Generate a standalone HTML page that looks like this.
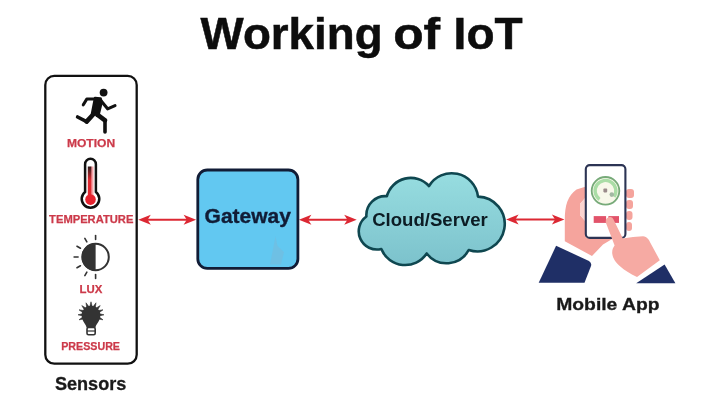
<!DOCTYPE html>
<html lang="en">
<head>
<meta charset="utf-8">
<title>Working of IoT</title>
<style>
html,body{margin:0;padding:0;background:#fff;}
body{width:720px;height:413px;overflow:hidden;}
svg{display:block;filter:blur(0.45px);}
text{font-family:"Liberation Sans",sans-serif;font-weight:bold;}
.red{fill:#cc3a4a;stroke:#cc3a4a;stroke-width:0.25px;}
.dark{fill:#1a1a1a;}
</style>
</head>
<body>
<svg width="720" height="413" viewBox="0 0 720 413">
<defs>
<linearGradient id="cg" x1="0" y1="0" x2="0" y2="1">
<stop offset="0" stop-color="#97dde0"/>
<stop offset="1" stop-color="#7cc2cc"/>
</linearGradient>
<linearGradient id="tg" x1="0" y1="0" x2="0" y2="1">
<stop offset="0" stop-color="#2a1a1a"/>
<stop offset="0.45" stop-color="#e02a30"/>
<stop offset="1" stop-color="#e02a30"/>
</linearGradient>
</defs>
<rect width="720" height="413" fill="#fff"/>

<!-- title -->
<g id="title" font-size="44" fill="#0d0d0d" stroke="#0d0d0d" stroke-width="0.5">
<text y="48.5"><tspan x="200.6" textLength="182" lengthAdjust="spacingAndGlyphs">Working</tspan> <tspan x="393.2" textLength="47" lengthAdjust="spacingAndGlyphs">of</tspan> <tspan x="453.6" textLength="69" lengthAdjust="spacingAndGlyphs">IoT</tspan></text>
</g>

<!-- sensors box -->
<rect x="45.3" y="75.9" width="91.4" height="287.8" rx="9" ry="9" fill="#fff" stroke="#111" stroke-width="2.3"/>

<!-- motion icon -->
<g id="motion" fill="none" stroke="#111" stroke-linecap="round" stroke-linejoin="round">
<circle cx="103.6" cy="92.6" r="3.9" fill="#111" stroke="none"/>
<path d="M95 98 L100.6 98.4 L101.6 102.5 L98.6 114.6 L92 113.6 Z" fill="#111" stroke-width="2.4"/>
<path d="M96 99 L86.8 99 L83.3 104.8" stroke-width="3.1"/>
<path d="M100.8 100.6 L107.6 108.8 L115 105.6" stroke-width="3.1"/>
<path d="M93.6 114 L86.6 121.6" stroke-width="4.6"/>
<path d="M86.6 121.6 L77.6 117" stroke-width="3.6"/>
<path d="M97 114.4 L105 120.4" stroke-width="4.6"/>
<path d="M105 120.4 L105 132" stroke-width="3.6"/>
</g>

<!-- thermometer -->
<g id="thermo">
<path d="M85.1 164.2 a5.4 5.4 0 0 1 10.8 0 L95.9 191.9 a8.8 8.8 0 1 1 -10.8 0 Z" fill="#fff" stroke="#111" stroke-width="2.5"/>
<rect x="90.3" y="166.5" width="3.2" height="30" fill="#f7a3a8"/>
<rect x="87.8" y="166.5" width="3.6" height="30" fill="url(#tg)"/>
<circle cx="90.5" cy="199.6" r="5.3" fill="#e5232f"/>
</g>

<!-- lux icon -->
<g id="lux">
<circle cx="95.6" cy="257" r="13.2" fill="#fff" stroke="#333" stroke-width="2"/>
<path d="M95.6 243 A14 14 0 0 0 95.6 271 Z" fill="#333"/>
<g stroke="#333" stroke-width="1.6" stroke-linecap="round">
<line x1="95.6" y1="239.5" x2="95.6" y2="235.5"/>
<line x1="86.85" y1="241.84" x2="84.85" y2="238.38"/>
<line x1="80.44" y1="248.25" x2="76.98" y2="246.25"/>
<line x1="78.1" y1="257" x2="74.1" y2="257"/>
<line x1="80.44" y1="265.75" x2="76.98" y2="267.75"/>
<line x1="86.85" y1="272.16" x2="84.85" y2="275.62"/>
<line x1="95.6" y1="274.5" x2="95.6" y2="278.5"/>
</g>
</g>

<!-- pressure icon -->
<g id="pressure">
<g fill="#333" stroke="#333" stroke-width="0.6" stroke-linejoin="round">
<path d="M83.6 319.1 L79.0 319.8 L82.7 317.0 Z"/>
<path d="M82.5 315.9 L78.0 314.8 L82.5 313.7 Z"/>
<path d="M82.7 312.6 L79.0 309.8 L83.6 310.5 Z"/>
<path d="M84.2 309.6 L81.8 305.6 L85.8 308.0 Z"/>
<path d="M86.7 307.4 L86.0 302.8 L88.8 306.5 Z"/>
<path d="M89.9 306.3 L91.0 301.8 L92.1 306.3 Z"/>
<path d="M93.2 306.5 L96.0 302.8 L95.3 307.4 Z"/>
<path d="M96.2 308.0 L100.2 305.6 L97.8 309.6 Z"/>
<path d="M98.4 310.5 L103.0 309.8 L99.3 312.6 Z"/>
<path d="M99.5 313.7 L104.0 314.8 L99.5 315.9 Z"/>
<path d="M99.3 317.0 L103.0 319.8 L98.4 319.1 Z"/>
</g>
<path d="M86.4 327.2 C86.4 324.5 82.5 322 81.8 316.4 a9.3 9.3 0 1 1 18.4 0 C99.5 322 95.6 324.5 95.6 327.2 Z" fill="#333"/>
<rect x="87" y="327.4" width="8.2" height="7.4" rx="1.5" fill="#fff" stroke="#333" stroke-width="1.6"/>
<line x1="87" y1="331" x2="95.2" y2="331" stroke="#333" stroke-width="1.2"/>
</g>

<!-- arrows -->
<g id="arrows" stroke="#dc2833" stroke-width="2" fill="#dc2833">
<line x1="146.6" y1="219.7" x2="187.8" y2="219.7"/>
<path d="M138.3 219.7 L150.8 214.7 L147.6 219.7 L150.8 224.7 Z" stroke="none"/>
<path d="M196.1 219.7 L183.6 214.7 L186.8 219.7 L183.6 224.7 Z" stroke="none"/>
<line x1="307.2" y1="219.7" x2="348.4" y2="219.7"/>
<path d="M298.9 219.7 L311.4 214.7 L308.2 219.7 L311.4 224.7 Z" stroke="none"/>
<path d="M356.7 219.7 L344.2 214.7 L347.4 219.7 L344.2 224.7 Z" stroke="none"/>
<line x1="514.4" y1="219.5" x2="556.1" y2="219.5"/>
<path d="M506.1 219.5 L518.6 214.5 L515.4 219.5 L518.6 224.5 Z" stroke="none"/>
<path d="M564.4 219.5 L551.9 214.5 L555.1 219.5 L551.9 224.5 Z" stroke="none"/>
</g>

<!-- gateway -->
<rect x="197.8" y="170" width="100.1" height="98.4" rx="9.5" ry="9.5" fill="#62c8f1" stroke="#111c36" stroke-width="2.8"/>
<text x="204.6" y="223.3" font-size="20.2" fill="#111c36" stroke="#111c36" stroke-width="0.35" textLength="86.4" lengthAdjust="spacingAndGlyphs">Gateway</text>

<path d="M275.5 236.5 L270 264.5 L281 264.5 L284 252 L277.5 246 Z" fill="#9aa6b8" opacity="0.22"/>
<!-- cloud -->
<path id="cloud" d="M366.4 216.5 A19.0 19.0 0 0 1 386.9 196.2 A24.7 24.7 0 0 1 429.0 186.0 A26.5 26.5 0 0 1 478.0 196.6 A27.4 27.4 0 1 1 468.7 250.0 A25.1 25.1 0 0 1 426.7 253.5 A25.8 25.8 0 0 1 381.3 249.0 A18.2 18.2 0 0 1 366.4 216.5 Z" fill="url(#cg)" stroke="#0f4750" stroke-width="2.6" stroke-linejoin="round"/>
<text x="372.2" y="225.7" font-size="18.6" fill="#0c1c24" textLength="115.6" lengthAdjust="spacingAndGlyphs">Cloud/Server</text>

<!-- mobile app illustration -->
<g id="mobile">
<!-- left sleeve -->
<path d="M538.7 282.8 L556.1 245.8 L589 261 Q592 263 591 266 L584.5 282.8 Z" fill="#1f2f66"/>
<!-- left hand -->
<path d="M564.8 221 C564.6 205 568 195.5 576.5 189.5 L586 186.5 L586 197 L580 204 L580 215 L586 222 L586 238 L613 238.5 L603 244.5 L592 256 L564.8 241.2 Z" fill="#f5a49d"/>
<!-- right-side fingers of left hand -->
<rect x="626" y="189" width="8" height="9" rx="3" fill="#f5a49d"/>
<rect x="626" y="200" width="7" height="9" rx="3" fill="#f5a49d"/>
<rect x="626" y="211" width="6.5" height="9" rx="3" fill="#f5a49d"/>
<rect x="626" y="222" width="6" height="9" rx="3" fill="#f5a49d"/>
<path d="M586 197 L580 204 L580 215 L586 222 Z" fill="#fbd3cf"/>
<!-- phone -->
<rect x="585.8" y="165.1" width="39.6" height="72.8" rx="4" ry="4" fill="#fff" stroke="#2c3454" stroke-width="2.1"/>
<!-- gauge -->
<circle cx="605.5" cy="190.8" r="13.8" fill="#f8f8ea" stroke="#77aa79" stroke-width="1.8"/>
<path d="M599.5 199.3 A10.4 10.4 0 1 1 614.0 196.8" fill="none" stroke="#aadda6" stroke-width="3.4"/>
<rect x="603.4" y="188.6" width="3.8" height="3.8" rx="0.8" fill="#9a8a8a"/>
<circle cx="611.8" cy="194.6" r="2.3" fill="#a3b8a3"/>
<!-- buttons -->
<rect x="593.7" y="216.1" width="12.4" height="6.8" fill="#e2536a"/>
<rect x="608.4" y="216.1" width="10.6" height="6.8" fill="#e2536a"/>
<!-- right sleeve -->
<path d="M636.2 283.2 L664.6 264.4 L675.4 283.2 Z" fill="#1f2f66"/>
<!-- right hand -->
<path d="M609.3 217.2 C611.5 216.8 613 218 614 220.5 L622.8 238.6 L633 236.9 L643 236.2 C647 236.2 649.5 240.5 650.6 243.2 L659.8 260.2 L637 277 C630 273.5 624 270 620.6 266.7 C616 262.5 613 259 612.3 254 C611.8 250.5 613 247.5 614.6 245.5 L606 223 C605 219.8 606.8 217.6 609.3 217.2 Z" fill="#f6aaa3"/>
</g>

<!-- labels -->
<text x="66.9" y="147.4" font-size="11.4" class="red" textLength="48.2" lengthAdjust="spacingAndGlyphs">MOTION</text>
<text x="49.1" y="223.4" font-size="10.9" class="red" textLength="84.3" lengthAdjust="spacingAndGlyphs">TEMPERATURE</text>
<text x="79.6" y="293.4" font-size="10.9" class="red" textLength="22.8" lengthAdjust="spacingAndGlyphs">LUX</text>
<text x="61.2" y="350.2" font-size="10.9" class="red" textLength="58.8" lengthAdjust="spacingAndGlyphs">PRESSURE</text>
<text x="54.9" y="389.8" font-size="17.5" class="dark" stroke="#1a1a1a" stroke-width="0.3" textLength="71.4" lengthAdjust="spacingAndGlyphs">Sensors</text>
<text x="556.2" y="310.4" font-size="17.3" class="dark" stroke="#1a1a1a" stroke-width="0.3" textLength="103.4" lengthAdjust="spacingAndGlyphs">Mobile App</text>
</svg>
</body>
</html>
